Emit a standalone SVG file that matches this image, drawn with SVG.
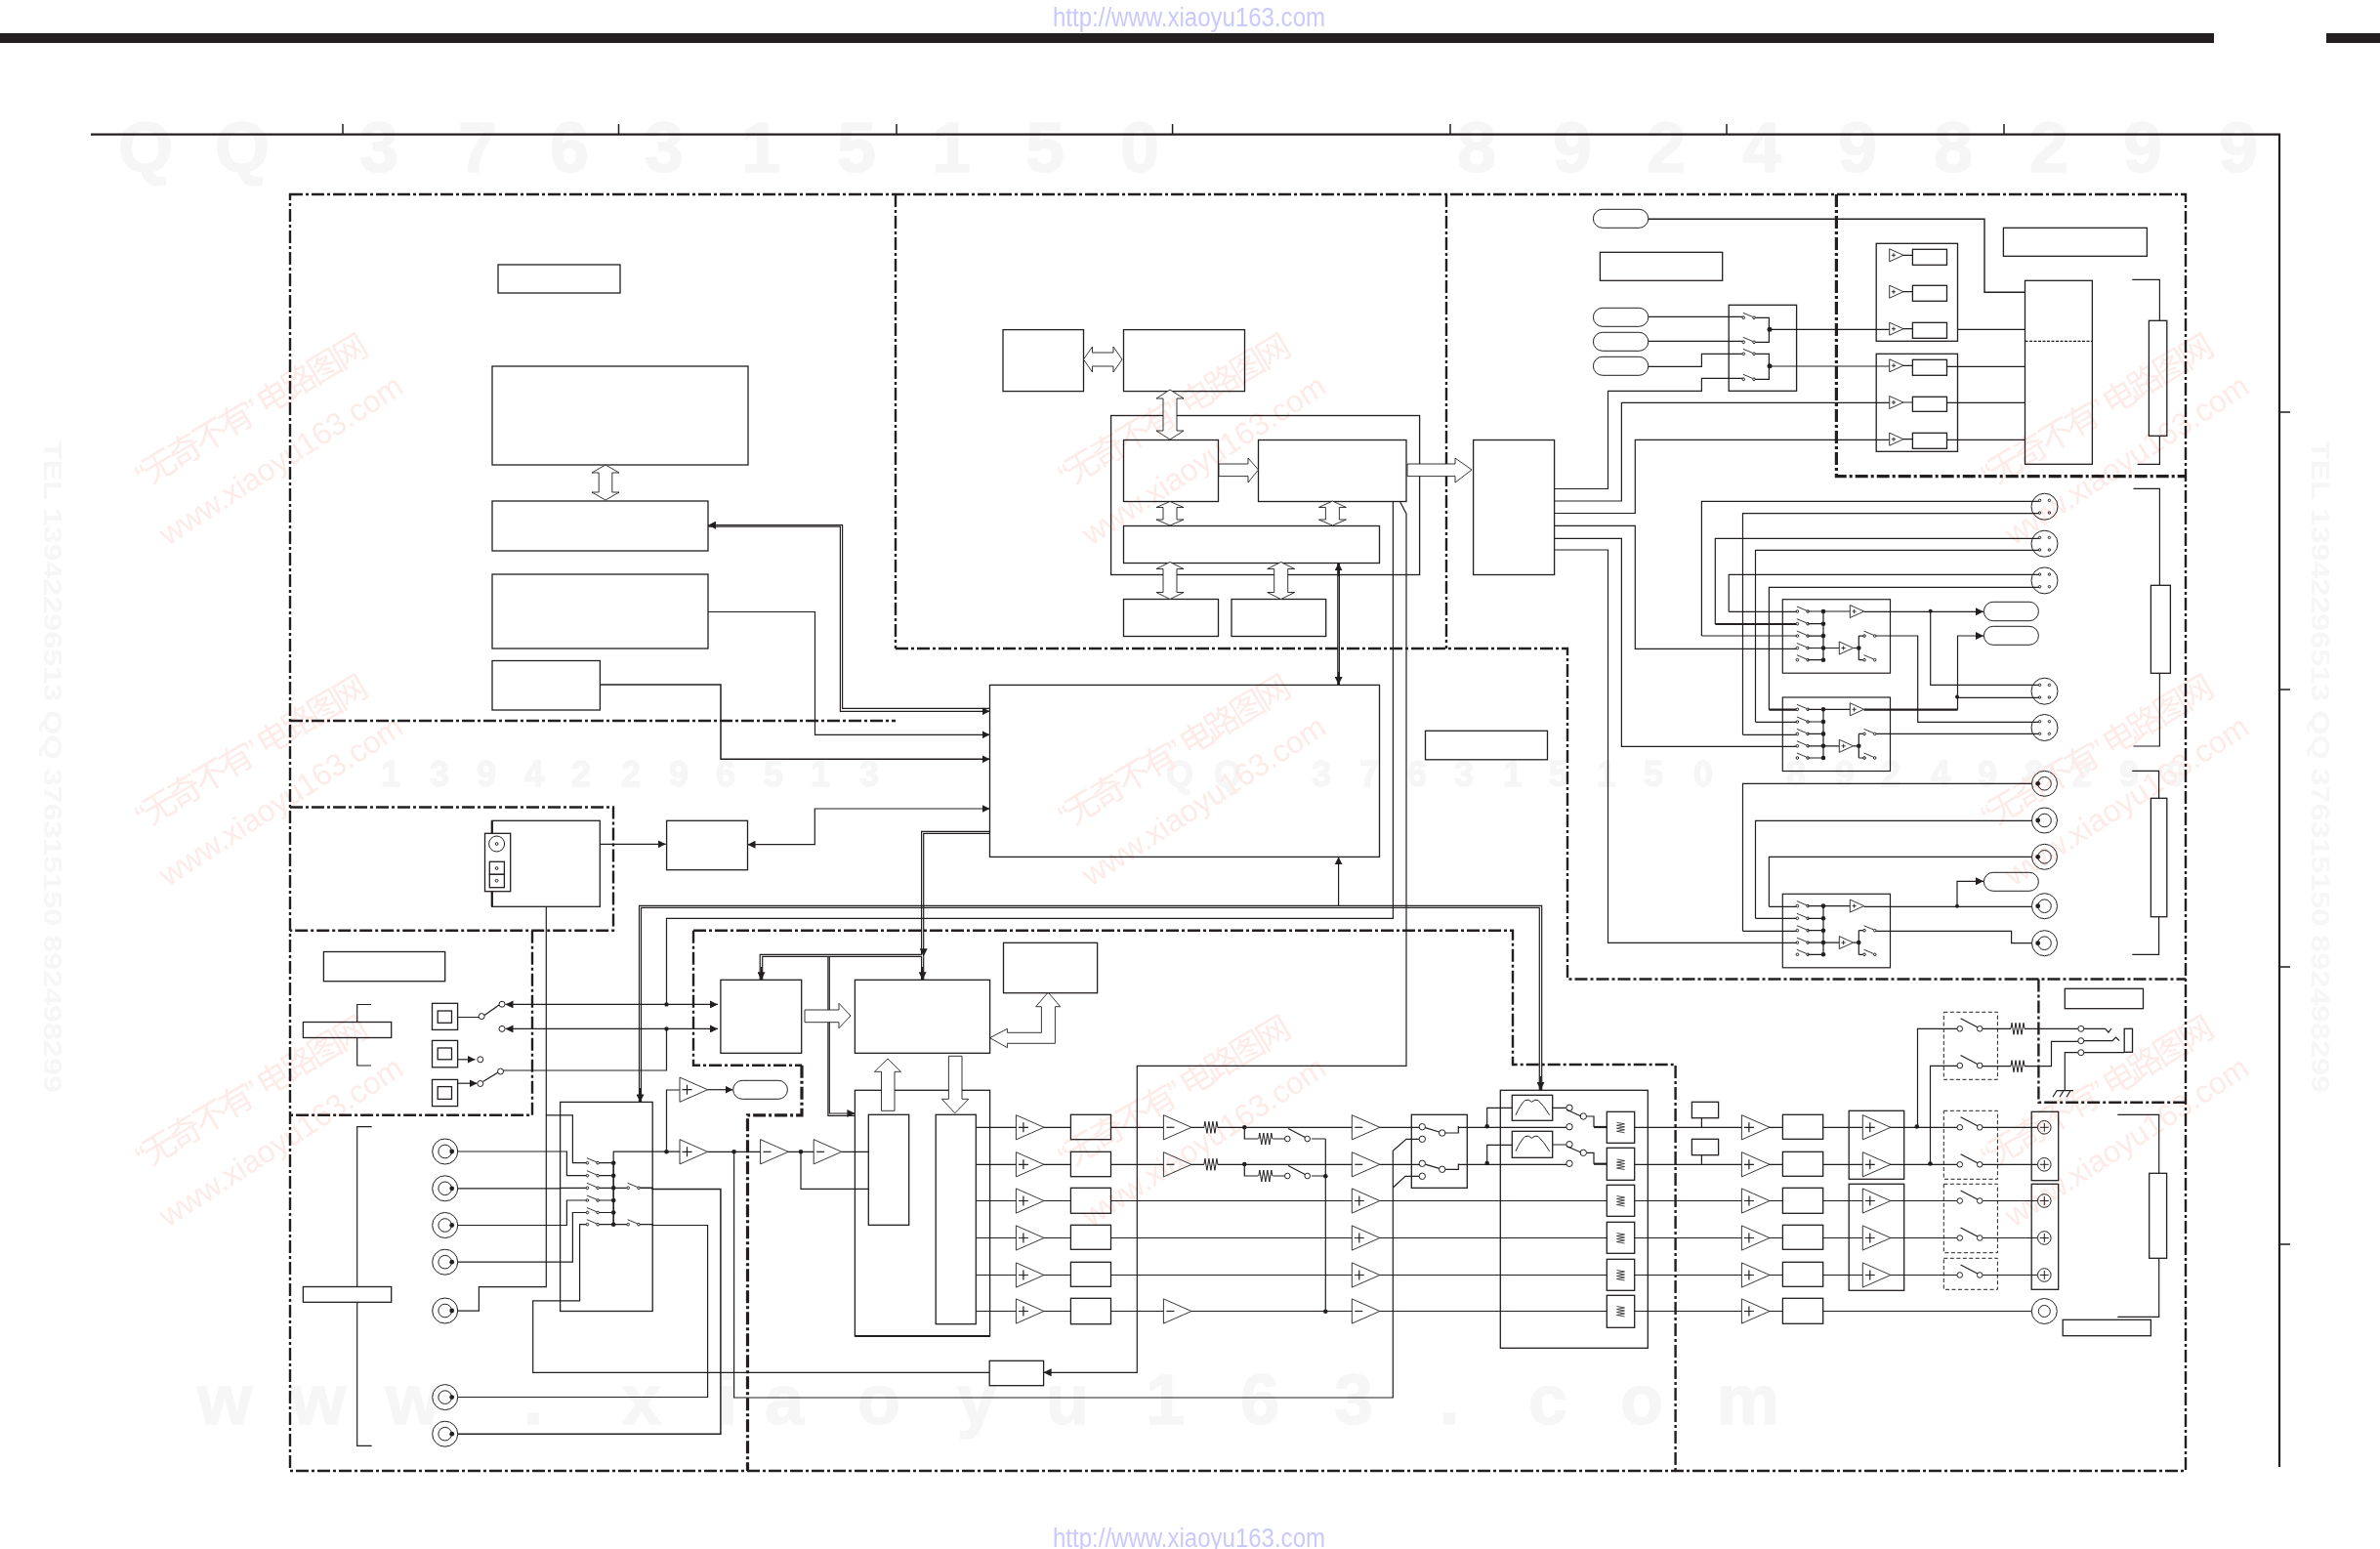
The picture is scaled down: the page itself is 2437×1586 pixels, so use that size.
<svg xmlns="http://www.w3.org/2000/svg" width="2437" height="1586" viewBox="0 0 2437 1586">
<style>
.l{fill:none;stroke:#231f20;stroke-width:1.2}
.t{fill:none;stroke:#231f20;stroke-width:2.2}
.d{fill:none;stroke:#231f20;stroke-width:2.4;stroke-dasharray:13 3 3 3}
.dt{fill:none;stroke:#231f20;stroke-width:3.2;stroke-dasharray:13 3 3 3}
.g{fill:none;stroke:#231f20;stroke-width:1;stroke-dasharray:4 2.5}
.b{fill:#fff;stroke:#231f20;stroke-width:1.3}
.p{fill:#fff;stroke:#231f20;stroke-width:1}
.o{fill:none;stroke:#231f20;stroke-width:1.3}
.h{fill:#fff;stroke:#231f20;stroke-width:.9}
.k{fill:#231f20;stroke:none}
.c{fill:#fff;stroke:#231f20;stroke-width:1}
.a{marker-end:url(#ah)}
.aa{marker-start:url(#ah);marker-end:url(#ah)}
.wd{font-family:"Liberation Sans",sans-serif;font-weight:700;fill:#f6f6f6;stroke:#f6f6f6;stroke-width:1.4;text-anchor:middle}
.wr{font-family:"Liberation Sans","Noto Sans CJK SC",sans-serif;fill:#fdebe8}
.wu{font-family:"Liberation Sans",sans-serif;fill:#c9c9ff;font-size:27px}
.wt{font-family:"Liberation Sans",sans-serif;font-weight:700;fill:#f6f6f6;font-size:26px}
#watermarks{mix-blend-mode:multiply}
</style>
<defs>
<marker id="ah" viewBox="0 0 8 8" refX="8" refY="4" markerWidth="8" markerHeight="8" markerUnits="userSpaceOnUse" orient="auto-start-reverse"><path d="M0 0L8 4L0 8Z" fill="#231f20"/></marker>
<g id="ap"><path class="h" d="M0 -12.6L28.6 0L0 12.6Z"/><path class="l" d="M2.5 0H12.5M7.5 -5V5"/></g>
<g id="am"><path class="h" d="M0 -12.6L28.6 0L0 12.6Z"/><path class="l" d="M3 0H11"/></g>
<g id="as"><path class="h" d="M0 -6.5L14.3 0L0 6.5Z"/><path class="l" style="stroke-width:.9" d="M2.2 0H6.4M4.3 -2.1V2.1"/></g>
<path id="res" class="l" style="stroke-width:1" d="M0 0L1 -6L3 6L5 -6L7 6L9 -6L11 6L13 -6L14 0"/>
<path id="att" class="l" style="stroke-width:.8" d="M-4 -5L4 -3.5L-4 -2L4 -.5L-4 1L4 2.5L-4 4L4 5.5"/>
<path id="flt" class="l" style="stroke-width:1" d="M3.7 20.3Q9 9 13.3 5.3Q17 3.5 20 7Q24 3.5 26.7 5.3Q32 10 38.3 20.3"/>
<g id="sw"><circle class="c" cx="0" cy="0" r="1.3"/><circle class="c" cx="10.7" cy="0" r="1.3"/><path class="l" style="stroke-width:.9" d="M-.5 -5L9.5 -.8"/></g>
<g id="swb"><circle class="c" cx="0" cy="0" r="2.8"/><circle class="c" cx="20.4" cy="0" r="2.8"/><path class="l" d="M.8 -10.5L18 -1.5"/></g>
<g id="din"><circle class="o" style="stroke-width:1" r="13.5"/><circle class="c" cx="-4.9" cy="-6.3" r="1.2"/><circle class="c" cx="4.9" cy="-6.3" r="1.2"/><circle class="c" cx="-4.9" cy="6.3" r="1.2"/><circle class="c" cx="4.9" cy="6.3" r="1.2"/></g>
<g id="cxr"><circle class="c" r="13"/><circle class="c" r="6.8"/><circle class="k" cx="-6.8" r="2.4"/></g>
<g id="cxl"><circle class="c" r="13"/><circle class="c" r="6.8"/><circle class="k" cx="7" r="2.4"/></g>
<g id="trm"><circle class="c" r="6.8"/><path class="l" style="stroke-width:1" d="M-4.5 0H4.5M0 -4.5V4.5"/></g>
<g id="blk">
<rect class="o" style="stroke-width:1.2" width="110.2" height="75.5"/>
<use href="#sw" x="15.1" y="12.3"/><use href="#sw" x="15.1" y="25"/><use href="#sw" x="15.1" y="37.4"/><use href="#sw" x="15.1" y="49.8"/><use href="#sw" x="15.1" y="62"/>
<path class="l" d="M26 12.3H69M26 25H41.7M26 37.4H41.7M26 49.8H58M26 62H41.7M41.7 12.3V62M72.3 49.8H78M78 37.4V62M78 37.4H83.7M78 62H83.7"/>
<circle class="k" cx="41.7" cy="12.3" r="2.3"/><circle class="k" cx="41.7" cy="25" r="2.3"/><circle class="k" cx="41.7" cy="37.4" r="2.3"/><circle class="k" cx="41.7" cy="49.8" r="2.3"/><circle class="k" cx="41.7" cy="62" r="2.3"/><circle class="k" cx="78" cy="49.8" r="2.3"/>
<use href="#as" x="69" y="12.3"/><use href="#as" x="58" y="49.8"/>
<use href="#sw" x="83.7" y="37.4"/><use href="#sw" x="83.7" y="62"/>
</g>
</defs>
<rect width="2437" height="1586" fill="#fff"/>
<g id="frame">
<rect class="k" x="0" y="34" width="2267" height="10"/><rect class="k" x="2382" y="34" width="55" height="10"/>
<path class="t" d="M93 137.7H2334V1502"/>
<path class="l" style="stroke-width:1.5" d="M351 127V137M633.5 127V137M918 127V137M1200.6 127V137M1485 127V137M1768 127V137M2052 127V137M2334 422H2345M2334 706H2345M2334 990H2345M2334 1274H2345"/>
</g>
<g id="regions">
<path class="d" d="M297 199H2238V1506H297Z"/>
<path class="d" d="M917 199V664M297 738H917M917 664H1605V1002.5H2238M1481 199V664M297 826.5H628V952.7H297M545 952.7V1141.8H297M710 952.7H1549V1090H1715.6V1506M710 952.7V1090.7H821M2087.4 1002.5V1128.7H2238"/>
<path class="dt" d="M1880.4 199V487.7H2238M821 1090.7V1141.8H765.5V1506"/>
</g>
<g id="connectors">
<path class="l" style="marker-start:url(#ah)" d="M725 537.7H862.6V725.3H1013.5"/>
<path class="l a" d="M725 539.2H860.4V728.3H1013.5"/>
<path class="l a" d="M725 626.5H834.5V752.3H1013.5"/>
<path class="t a" style="stroke-width:1.5" d="M614.4 701H738V777.3H1013.5"/>
<path class="l a" d="M614.3 864.3H681.7"/>
<path class="l aa" d="M765.5 864.7H834.3V828H1013.5"/>
<path class="l" d="M1013.5 851.3H943.6V977.3H778.2V1003.3"/>
<path class="l a" d="M1013.5 853.3H945.7V979.3"/>
<path class="l" d="M780.7 1003.3V979.3H943.6V1003.3M945.7 979.3V1003.3"/>
<path class="l a" d="M849.3 979.3V1140H875.4"/>
<path class="l" d="M847.9 979.3V1142.3H875.4"/>
<path class="l a" d="M944.6 990V1003.3"/><path class="l a" d="M779.5 990V1003.3"/>
<path class="l" d="M654.5 1128.4V927.3H1578.7V1116"/>
<path class="l" d="M656.5 1128.4V929.3H1576.3V1116"/>
<path class="l a" d="M655.5 1114V1128.4"/><path class="l a" d="M1577.5 1102V1116"/>
<path class="l" style="marker-start:url(#ah)" d="M1370.6 877.3V927.3"/>
<path class="l" d="M1369.8 576.4V701M1371.4 576.4V701"/>
<path class="l a" d="M1370.6 590V576.4"/><path class="l a" d="M1370.6 688V701"/>
<path class="l" d="M1426.4 513.5V940.3H682.5V1028.4"/>
<path class="l a" d="M1433.5 513.5L1440 526V1091.3H1164.3V1405.3H1068.6"/>
<path class="l" d="M1013.2 1405.3H545.7V1331.9H593.6V1253.7H601.4"/>
<path class="l" d="M682.5 1053.4V1096H512.5"/>
<path class="l aa" d="M517.5 1028.4H735"/><path class="l aa" d="M517.5 1053.4H735"/>
<circle class="k" cx="682.5" cy="1028.4" r="2.2"/><circle class="k" cx="682.5" cy="1053.4" r="2.2"/>
<path class="l" d="M462.5 1041.5H490M496 1039.5L511 1029"/>
<path class="l a" d="M468.6 1084.8H486.5"/><path class="l a" d="M468.6 1109.2H488.5"/><path class="l" d="M494.5 1107.5L510 1098"/>
<path class="l" d="M682.5 1179.2V1116H696"/>
<path class="l a" d="M724.6 1115.7H750.5"/>
<path class="l" d="M628.2 1253.7V1179.2H696M724.6 1179.3H778.6M806.4 1179.3H833.2M861.8 1179.3H889.3M820 1179.3V1217.3H889.3"/>
<path class="l" d="M751.6 1179.3V1431H1426.3V1178.3L1440 1166.3H1453.5M1426.3 1216L1439 1204.3H1453.5"/>
<circle class="k" cx="682.5" cy="1179.2" r="2.3"/><circle class="k" cx="751.6" cy="1179.3" r="2.3"/><circle class="k" cx="820" cy="1179.3" r="2.3"/>
<path class="l" d="M462.9 1179H580.4V1203.7H601.4M462.9 1216.8H573.6V1216.3H601.4M462.9 1254.5H580.4V1229H601.4M462.9 1292.2H586.4V1241.5H601.4M462.9 1342.2H490.4V1317.7H559.3V928.3M559.3 1141.8H586.4V1190.7H601.4"/>
<path class="l" style="stroke-width:1.5" d="M653.9 1216.3H668.2V1217.4H737.9V1468.3H462.9"/>
<path class="l" d="M653.9 1253.7H668.2V1254.5H724.6V1430.5H462.9"/>
<path class="l" d="M612.1 1190.7H628.2M612.1 1203.7H628.2M612.1 1216.3H643.2M612.1 1229H628.2M612.1 1241.5H628.2M612.1 1253.7H643.2M628.2 1190.7V1253.7"/>
<path class="l" d="M999.3 1154.3H1040.4M999.3 1192.3H1040.4M999.3 1229.5H1040.4M999.3 1267.5H1040.4M999.3 1305.5H1040.4M999.3 1342.5H1040.4M1068.6 1154.3H1096.4M1068.6 1192.3H1096.4M1068.6 1229.5H1096.4M1068.6 1267.5H1096.4M1068.6 1305.5H1096.4M1068.6 1342.5H1096.4"/>
<path class="l" d="M1137.5 1154.3H1191.4M1137.5 1192.3H1191.4M1137.5 1342.5H1191.4M1137.5 1229.5H1384.3M1137.5 1267.5H1384.3M1137.5 1305.5H1384.3M1220 1342.5H1384.3M1220 1154.3H1232.9M1220 1192.3H1232.9M1246.8 1154.3H1384.3M1246.8 1192.3H1384.3"/>
<path class="l" d="M1274.3 1154.3V1166H1288.3M1303.3 1166H1315.5M1343 1166H1357.3M1274.3 1192.3V1204H1288.3M1303.3 1204H1315.5M1343 1204H1357.3M1357.3 1166V1342.5"/>
<path class="l" d="M1412.7 1154.3H1453.5M1412.7 1192.3H1453.5M1479.5 1160H1493.3V1153M1479.5 1197.3H1493.3V1191.5M1493.3 1154.3H1604M1493.3 1192.3H1604M1522.7 1154.3V1134.3H1548.3M1522.7 1192V1172.3H1548.3M1589.7 1134.3H1604M1589.7 1172H1604"/>
<path class="l" d="M1624.6 1143H1632V1154"/><path class="t" d="M1632 1154H1645.3"/><path class="l" d="M1624.6 1180.3H1632V1191.7"/><path class="t" d="M1632 1191.7H1645.3"/>
<path class="l" d="M1412.7 1229.5H1645.3M1412.7 1267.5H1645.3M1412.7 1305.5H1645.3M1412.7 1342.5H1645.3"/>
<path class="l" d="M1673.7 1154.3H1783.4M1673.7 1192.3H1783.4M1673.7 1229.5H1783.4M1673.7 1267.5H1783.4M1673.7 1305.5H1783.4M1673.7 1342.5H1783.4M1811 1154.3H1825.4M1811 1192.3H1825.4M1811 1229.5H1825.4M1811 1267.5H1825.4M1811 1305.5H1825.4M1811 1342.5H1825.4M1866.7 1154.3H1907.3M1866.7 1192.3H1907.3M1866.7 1229.5H1907.3M1866.7 1267.5H1907.3M1866.7 1305.5H1907.3M1866.7 1342.5H2080M1742.4 1144.7V1154.3M1742.4 1182.7V1192.3"/>
<path class="l" d="M1934.9 1154.3H2004M1934.9 1192.3H2004M1934.9 1229.5H2004M1934.9 1267.5H2004M1934.9 1305.5H2004M2030 1154.3H2086.5M2030 1192.3H2086.5M2030 1229.5H2086.5M2030 1267.5H2086.5M2030 1305.5H2086.5"/>
<path class="l" d="M1963.5 1154.3V1053.3H2004M1976.5 1192.3V1091.3H2004M2030 1053.3H2059M2073 1053.3H2128M2030 1091.7H2059M2073 1091.7H2100.5V1066.3H2128M2128 1077.7H2114.3V1116.7M2133.8 1077.7H2175.2M2133.8 1053.3H2155.6L2159 1057L2162 1053M2133.8 1065.7H2163L2166.5 1062L2170 1065.5M2105.7 1116.7H2122.9M2102 1123.3L2106 1116.7M2109 1123.3L2113 1116.7M2116 1123.3L2120 1116.7"/>
<circle class="k" cx="1962.8" cy="1153.5" r="2.3"/><circle class="k" cx="1976.5" cy="1191.5" r="2.3"/>
<path class="l" style="stroke-width:1.4" d="M1687.8 224.3H2032V299.3H2073.5"/>
<path class="l" d="M1687.8 324.3H1785.3M1687.8 349.3H1785.3M1687.8 375.3H1742.4V362.3H1785.3M1591.6 500.5H1646.5V400.3H1742.4V387.3H1785.3"/>
<path class="l" d="M1796 325.3H1811.4V350.3H1796M1796 362.3H1811.4V388.3H1796M1812 337.3H1934.7M1812 375H1934.7M2004.5 337.3H2073.5M1993.5 375.3H2073.5M1993.5 412.3H2073.5M1993.5 450.3H2073.5"/>
<path class="l" d="M1948.6 261.3H1958.4M1948.6 298.7H1958.4M1948.6 336.7H1958.4M1948.6 374.3H1958.4M1948.6 412H1958.4M1948.6 449.7H1958.4"/>
<path class="l" d="M1591.6 513H1660.4V412.3H1934.7M1591.6 525.5H1674.3V450.3H1934.7M1591.6 538.3H1674.3V664.3H1840.4M1591.6 551.4H1660.4V764.3H1840.4M1591.6 563H1646.5V965.3H1840.4"/>
<path class="l" d="M1742.4 651V513.3H2088.6M1756.3 639V551.3H2088.6M1770.2 626.3V588.3H2088.6M1784.5 752.3V525.7H2088.6M1797.5 739.3V563.3H2088.6M1811.4 726.7V601.3H2088.6"/>
<path class="l" d="M1770.2 626.3H1840.4M1742.4 651H1840.4M1797.5 739.3H1840.4M1784.5 752.3H1840.4"/>
<path class="t" d="M1756.3 639H1840.4M1811.4 726.7H1840.4M1908.6 726.7H2004.5"/>
<path class="l a" d="M1908.6 626.3H2031"/>
<path class="l" d="M1976.7 626V701.3H2088.6M2004.3 714.3H2088.6M1920 651H1963.7V739.3H2088.6M1920 751.4H2088.6"/>
<path class="l a" d="M2004.5 726.7V651H2031"/>
<circle class="k" cx="1976.7" cy="625.7" r="2"/><circle class="k" cx="2004" cy="713.5" r="2"/>
<path class="l" d="M1811.4 928.3V877.3H2086.5M1797.5 940.3V840.3H2086.5M1784.5 953.3V802.3H2086.5M1811.4 928.3H1840.4M1797.5 940.3H1840.4M1784.5 953.3H1840.4M1908.6 928.3H2086.5M1920 953.3H2059.6V965.7H2086.5"/>
<path class="l a" d="M2004 928V902.3H2031"/>
<circle class="k" cx="2004" cy="927.8" r="2"/>
<path class="l" d="M380.7 1153.7H365.7V1480.3H380.7M380 1028.5H365.7V1091H380M2183.3 286.3H2211.4V475.3H2188.6M2184.5 500.3H2211.4V764H2184.5M2183.3 789.3H2210.6V977.3H2183.3M2168.3 1141.3H2210.7V1348.3H2168.3"/>
</g>
<g id="node-tuner-title"><rect class="b" x="510" y="271" width="125" height="29"/></g>
<g id="node-left-big"><rect class="b" x="504" y="375" width="262" height="101"/></g>
<g id="node-left-mid"><rect class="b" x="504" y="513" width="221" height="51"/></g>
<g id="node-left-low"><rect class="b" x="504" y="588" width="221" height="76"/></g>
<g id="node-left-small"><rect class="b" x="504" y="676.5" width="110.4" height="50.5"/></g>
<g id="node-a"><rect class="b" x="1027" y="337.6" width="82.5" height="63"/></g>
<g id="node-b"><rect class="b" x="1150.5" y="337.6" width="124" height="63"/></g>
<g id="node-group"><rect class="o" x="1137.6" y="425.5" width="316" height="163"/></g>
<g id="node-c"><rect class="b" x="1150.5" y="450.5" width="97" height="63"/></g>
<g id="node-d"><rect class="b" x="1288.5" y="450.5" width="151.5" height="63"/></g>
<g id="node-e"><rect class="b" x="1508.6" y="450.5" width="83" height="138"/></g>
<g id="node-f"><rect class="b" x="1150.5" y="538.5" width="262" height="38"/></g>
<g id="node-g"><rect class="b" x="1150.5" y="613.5" width="97" height="38"/></g>
<g id="node-h"><rect class="b" x="1261" y="613.5" width="96.7" height="38"/></g>
<g id="node-main"><rect class="o" x="1013.5" y="701.4" width="399" height="176"/></g>
<g id="node-main-title"><rect class="b" x="1459.5" y="748.3" width="125" height="29.5"/></g>
<g id="hollow-arrows">
<polygon class="h" points="620,476 634,484 626.8,484 626.8,504 634,504 620,512 606,504 613.2,504 613.2,484 606,484"/>
<polygon class="h" points="1198,399 1212,408 1205,408 1205,441 1212,441 1198,450 1184,441 1191,441 1191,408 1184,408"/>
<polygon class="h" points="1198,513.5 1212,519.5 1205,519.5 1205,532 1212,532 1198,538 1184,532 1191,532 1191,519.5 1184,519.5"/>
<polygon class="h" points="1364.4,513 1378.4,519.5 1371.4,519.5 1371.4,532 1378.4,532 1364.4,538 1350.4,532 1357.4,532 1357.4,519.5 1350.4,519.5"/>
<polygon class="h" points="1198,575.5 1212,582.5 1205,582.5 1205,606.5 1212,606.5 1198,613.5 1184,606.5 1191,606.5 1191,582.5 1184,582.5"/>
<polygon class="h" points="1311.7,575.5 1325.7,582.5 1318.7,582.5 1318.7,606.5 1325.7,606.5 1311.7,613.5 1297.7,606.5 1304.7,606.5 1304.7,582.5 1297.7,582.5"/>
<polygon class="h" points="1109.5,368 1118.5,355 1118.5,361 1140,361 1140,355 1149,368 1140,381 1140,375 1118.5,375 1118.5,381"/>
<polygon class="h" points="1248,475 1278,475 1278,469 1288.5,481 1278,494 1278,487.6 1248,487.6"/>
<polygon class="h" points="1441,475 1490,475 1490,469 1507,481 1490,494 1490,487.6 1441,487.6"/>
<polygon class="h" points="824,1034 859,1034 859,1027.3 871,1040 859,1052.7 859,1046.7 824,1046.7"/>
<polygon class="h" points="1013.6,1062.7 1031.4,1053.3 1031.4,1057.3 1066.4,1057.3 1066.4,1030.7 1060.7,1030.7 1073.2,1016 1085.7,1030.7 1080.4,1030.7 1080.4,1068.3 1031.4,1068.3 1031.4,1072.7"/>
</g>
<g id="node-pills">
<rect class="p" x="1631.4" y="214.3" width="56.4" height="19" rx="9.5"/><rect class="p" x="1631.4" y="315.3" width="56.4" height="19" rx="9.5"/><rect class="p" x="1631.4" y="340.3" width="56.4" height="19" rx="9.5"/><rect class="p" x="1631.4" y="365.3" width="56.4" height="19" rx="9.5"/>
<rect class="p" x="2031.4" y="616.3" width="56" height="19.4" rx="9.5"/><rect class="p" x="2031.4" y="641.3" width="56" height="19" rx="9.5"/><rect class="p" x="2031.4" y="893.3" width="56" height="19" rx="9.5"/><rect class="p" x="750.7" y="1106.3" width="55.7" height="19" rx="9.5"/>
</g>
<g id="node-top-right-title"><rect class="b" x="1638.4" y="258.3" width="125.3" height="29"/><rect class="b" x="2051.4" y="233.3" width="147" height="29"/></g>
<g id="node-selector">
<rect class="o" x="1770.2" y="312.3" width="69.4" height="88"/>
<use href="#sw" x="1785.3" y="325.3"/><use href="#sw" x="1785.3" y="350.3"/><use href="#sw" x="1785.3" y="362.3"/><use href="#sw" x="1785.3" y="388.3"/>
<circle class="k" cx="1812" cy="337.3" r="2.5"/><circle class="k" cx="1812" cy="374.7" r="2.5"/>
</g>
<g id="node-amp-box-1">
<rect class="o" x="1921.2" y="249.3" width="83.3" height="100"/>
<use href="#as" x="1934.7" y="261.3"/><use href="#as" x="1934.7" y="298.7"/><use href="#as" x="1934.7" y="336.7"/>
<rect class="b" x="1958.4" y="255.3" width="35.1" height="16"/><rect class="b" x="1958.4" y="292.3" width="35.1" height="16"/><rect class="b" x="1958.4" y="330.3" width="35.1" height="16"/>
</g>
<g id="node-amp-box-2">
<rect class="o" x="1921.2" y="362.3" width="83.3" height="100"/>
<use href="#as" x="1934.7" y="374.3"/><use href="#as" x="1934.7" y="412"/><use href="#as" x="1934.7" y="449.7"/>
<rect class="b" x="1958.4" y="368.3" width="35.1" height="16"/><rect class="b" x="1958.4" y="406.3" width="35.1" height="15"/><rect class="b" x="1958.4" y="443.3" width="35.1" height="16"/>
</g>
<g id="node-hdmi">
<rect class="b" x="2073.5" y="287.3" width="68.9" height="188"/>
<path class="l" style="stroke-dasharray:3 1.5" d="M2073.5 349.3H2142.4"/>
</g>
<g id="node-labels-right">
<rect class="b" x="2200.4" y="328.3" width="18.4" height="118"/><rect class="b" x="2202.4" y="599.3" width="20" height="90"/><rect class="b" x="2202.4" y="817.3" width="16.4" height="121.4"/><rect class="b" x="2200.7" y="1201.3" width="17.9" height="87"/><rect class="b" x="2112.2" y="1351.3" width="90.2" height="16.4"/><rect class="b" x="2114.3" y="1012.3" width="80.2" height="20.4"/>
</g>
<g id="node-switch-blocks">
<use href="#blk" x="1825.3" y="613.7"/><use href="#blk" x="1825.3" y="714"/><use href="#blk" x="1825.3" y="915.3"/>
</g>
<g id="node-din-connectors">
<use href="#din" x="2093.5" y="518.7"/><use href="#din" x="2093.5" y="556.7"/><use href="#din" x="2093.5" y="594.4"/><use href="#din" x="2093.5" y="707.7"/><use href="#din" x="2093.5" y="745"/>
</g>
<g id="node-coax-right">
<use href="#cxr" x="2093.5" y="802.3"/><use href="#cxr" x="2093.5" y="840"/><use href="#cxr" x="2093.5" y="877.3"/><use href="#cxr" x="2093.5" y="927.7"/><use href="#cxr" x="2093.5" y="965.7"/>
</g>
<g id="node-am">
<rect class="o" x="503.8" y="840.3" width="110.5" height="88"/>
<path class="t" d="M503.8 840.3V853.3M503.8 912.7V928.3"/>
<rect class="b" x="496.5" y="853.3" width="26.2" height="59.4"/>
<circle class="c" cx="508.6" cy="864" r="8"/><circle class="c" cx="508.6" cy="864" r="1.4"/>
<rect class="b" x="501.3" y="882.3" width="15.1" height="13"/><rect class="b" x="501.3" y="895.3" width="15.1" height="13.4"/>
<circle class="c" cx="508.6" cy="889" r="1.4"/><circle class="c" cx="508.6" cy="901.7" r="1.4"/>
</g>
<g id="node-o"><rect class="b" x="682.6" y="840.3" width="82.9" height="50.4"/></g>
<g id="node-digital-title"><rect class="b" x="331.4" y="974.5" width="124.3" height="30.2"/></g>
<g id="node-bracket-labels"><rect class="b" x="310.4" y="1046.5" width="90.3" height="16"/><rect class="b" x="310.4" y="1317.5" width="90.3" height="15.8"/></g>
<g id="node-optical">
<rect class="b" x="442.5" y="1027.3" width="26.1" height="27.1"/><rect class="b" x="448.2" y="1035" width="14.3" height="12.3"/>
<rect class="b" x="442.5" y="1065.4" width="26.1" height="27.4"/><rect class="b" x="448.2" y="1073" width="14.3" height="11.8"/>
<rect class="b" x="442.5" y="1105.4" width="26.1" height="27.2"/><rect class="b" x="448.2" y="1112.6" width="14.3" height="12.8"/>
<circle class="c" cx="493.2" cy="1040.6" r="3"/><circle class="c" cx="514" cy="1028.2" r="3"/><circle class="c" cx="514" cy="1053.4" r="3"/><circle class="c" cx="491.8" cy="1084.8" r="3"/><circle class="c" cx="491.8" cy="1109.5" r="3"/><circle class="c" cx="512.5" cy="1097" r="3"/>
</g>
<g id="node-coax-left">
<use href="#cxl" x="455.7" y="1179"/><use href="#cxl" x="455.7" y="1216.8"/><use href="#cxl" x="455.7" y="1254.5"/><use href="#cxl" x="455.7" y="1292.2"/><use href="#cxl" x="455.7" y="1342"/><use href="#cxl" x="455.7" y="1430.6"/><use href="#cxl" x="455.7" y="1468.2"/>
</g>
<g id="node-input-select">
<rect class="o" x="573.6" y="1128.4" width="94.6" height="214.1"/>
<use href="#sw" x="601.4" y="1190.7"/><use href="#sw" x="601.4" y="1203.7"/><use href="#sw" x="601.4" y="1216.3"/><use href="#sw" x="601.4" y="1229"/><use href="#sw" x="601.4" y="1241.5"/><use href="#sw" x="601.4" y="1253.7"/>
<use href="#sw" x="643.2" y="1216.3"/><use href="#sw" x="643.2" y="1253.7"/>
<circle class="k" cx="628.2" cy="1190.7" r="2.3"/><circle class="k" cx="628.2" cy="1203.7" r="2.3"/><circle class="k" cx="628.2" cy="1216.3" r="2.3"/><circle class="k" cx="628.2" cy="1229" r="2.3"/><circle class="k" cx="628.2" cy="1241.5" r="2.3"/><circle class="k" cx="628.2" cy="1253.7" r="2.3"/>
</g>
<g id="node-left-amps">
<use href="#ap" x="696" y="1115.7"/><use href="#ap" x="696" y="1179.3"/><use href="#am" x="778.6" y="1179.3"/><use href="#am" x="833.2" y="1179.3"/>
</g>
<g id="node-i"><rect class="b" x="737.9" y="1003.3" width="82.8" height="75"/></g>
<g id="node-j"><rect class="b" x="875.4" y="1003.3" width="138.2" height="75"/></g>
<g id="node-k"><rect class="b" x="1027.5" y="965.3" width="96.1" height="51.4"/></g>
<g id="node-dsp">
<rect class="o" style="stroke-width:1.3" x="875.4" y="1116.3" width="138.2" height="251.7"/>
<path class="t" d="M875.4 1368H1013.6"/>
<rect class="b" x="889.3" y="1141.3" width="41.4" height="113"/>
<rect class="b" x="958.2" y="1141.3" width="41.1" height="214.4"/>
</g>
<g id="hollow-arrows-dsp">
<polygon class="h" points="909,1084 922.5,1097.3 916,1097.3 916,1137.3 902.5,1137.3 902.5,1097.3 895.4,1097.3"/>
<polygon class="h" points="971.4,1081.3 985,1081.3 985,1125.3 991.8,1125.3 977.9,1139.7 964.3,1125.3 971.4,1125.3"/>
</g>
<g id="node-m"><rect class="b" x="1013.2" y="1393.3" width="55.4" height="25.4"/></g>
<g id="node-row-a">
<use href="#ap" x="1040.4" y="1154.3"/><use href="#ap" x="1040.4" y="1192.3"/><use href="#ap" x="1040.4" y="1229.5"/><use href="#ap" x="1040.4" y="1267.5"/><use href="#ap" x="1040.4" y="1305.5"/><use href="#ap" x="1040.4" y="1342.5"/>
<rect class="b" x="1096.4" y="1141.3" width="41.1" height="25.4"/><rect class="b" x="1096.4" y="1179.3" width="41.1" height="25.4"/><rect class="b" x="1096.4" y="1216.3" width="41.1" height="26"/><rect class="b" x="1096.4" y="1254.3" width="41.1" height="25"/><rect class="b" x="1096.4" y="1292.3" width="41.1" height="25"/><rect class="b" x="1096.4" y="1329.3" width="41.1" height="26.4"/>
<use href="#am" x="1191.4" y="1154.3"/><use href="#am" x="1191.4" y="1192.3"/><use href="#am" x="1191.4" y="1342.5"/>
<use href="#res" x="1232.9" y="1154.3"/><use href="#res" x="1232.9" y="1192.3"/>
<circle class="k" cx="1274.3" cy="1154.3" r="2.3"/><circle class="k" cx="1274.3" cy="1192" r="2.3"/>
<use href="#res" x="1288.8" y="1166"/><use href="#res" x="1288.8" y="1204"/>
<use href="#swb" x="1318.3" y="1166"/><use href="#swb" x="1318.3" y="1204"/>
<circle class="k" cx="1357.3" cy="1204.3" r="2.3"/><circle class="k" cx="1357.3" cy="1342.7" r="2.3"/>
<use href="#am" x="1384.3" y="1154.3"/><use href="#am" x="1384.3" y="1192.3"/><use href="#ap" x="1384.3" y="1229.5"/><use href="#ap" x="1384.3" y="1267.5"/><use href="#ap" x="1384.3" y="1305.5"/><use href="#am" x="1384.3" y="1342.5"/>
</g>
<g id="node-mix-switch">
<rect class="o" x="1445.3" y="1141.3" width="57" height="75"/>
<circle class="c" cx="1456.3" cy="1153.7" r="3.2"/><circle class="c" cx="1476.7" cy="1160" r="3.2"/><circle class="c" cx="1456.3" cy="1166.3" r="3.2"/><path class="l" d="M1459.4 1154.6L1473.6 1159"/>
<circle class="c" cx="1456.3" cy="1191.3" r="3.2"/><circle class="c" cx="1476.7" cy="1197.3" r="3.2"/><circle class="c" cx="1456.3" cy="1204.3" r="3.2"/><path class="l" d="M1459.4 1192.2L1473.6 1196.4"/>
<circle class="k" cx="1522.7" cy="1153.3" r="2.3"/><circle class="k" cx="1522.7" cy="1191" r="2.3"/>
</g>
<g id="node-output-filter">
<rect class="o" x="1536.3" y="1116.3" width="151" height="264"/>
<rect class="b" x="1548.3" y="1121.3" width="41.4" height="26"/><use href="#flt" x="1548.3" y="1121.3"/>
<rect class="b" x="1548.3" y="1158.3" width="41.4" height="27"/><use href="#flt" x="1548.3" y="1158.3"/>
<circle class="c" cx="1607" cy="1134.3" r="3.2"/><circle class="c" cx="1621.3" cy="1143" r="3.2"/><circle class="c" cx="1607" cy="1153.7" r="3.2"/><path class="l" d="M1604 1136L1619 1143"/>
<circle class="c" cx="1607" cy="1171.7" r="3.2"/><circle class="c" cx="1621.3" cy="1180.3" r="3.2"/><circle class="c" cx="1607" cy="1191.3" r="3.2"/><path class="l" d="M1604 1173.5L1619 1180"/>
<rect class="b" x="1645.3" y="1138.3" width="28.4" height="32"/><use href="#att" x="1659.5" y="1154.3"/>
<rect class="b" x="1645.3" y="1175.3" width="28.4" height="33"/><use href="#att" x="1659.5" y="1192"/>
<rect class="b" x="1645.3" y="1213.3" width="28.4" height="32"/><use href="#att" x="1659.5" y="1229.5"/>
<rect class="b" x="1645.3" y="1251.3" width="28.4" height="32"/><use href="#att" x="1659.5" y="1267.5"/>
<rect class="b" x="1645.3" y="1289.3" width="28.4" height="32"/><use href="#att" x="1659.5" y="1305.5"/>
<rect class="b" x="1645.3" y="1326.3" width="28.4" height="33"/><use href="#att" x="1659.5" y="1342.5"/>
</g>
<g id="node-row-b">
<rect class="b" x="1732.4" y="1128.3" width="27.2" height="16.4"/><rect class="b" x="1732.4" y="1166.3" width="27.2" height="16.4"/>
<use href="#ap" x="1783.4" y="1154.3"/><use href="#ap" x="1783.4" y="1192.3"/><use href="#ap" x="1783.4" y="1229.5"/><use href="#ap" x="1783.4" y="1267.5"/><use href="#ap" x="1783.4" y="1305.5"/><use href="#ap" x="1783.4" y="1342.5"/>
<rect class="b" x="1825.4" y="1141.3" width="41.3" height="25"/><rect class="b" x="1825.4" y="1179.3" width="41.3" height="25"/><rect class="b" x="1825.4" y="1216.3" width="41.3" height="26"/><rect class="b" x="1825.4" y="1254.3" width="41.3" height="25"/><rect class="b" x="1825.4" y="1292.3" width="41.3" height="25"/><rect class="b" x="1825.4" y="1329.3" width="41.3" height="26"/>
</g>
<g id="node-power-amps">
<rect class="o" x="1893.2" y="1137.3" width="56.5" height="70"/><rect class="o" x="1893.2" y="1212.3" width="56.5" height="109"/>
<use href="#ap" x="1907.3" y="1154.3"/><use href="#ap" x="1907.3" y="1192.3"/><use href="#ap" x="1907.3" y="1229.5"/><use href="#ap" x="1907.3" y="1267.5"/><use href="#ap" x="1907.3" y="1305.5"/>
</g>
<g id="node-relays">
<rect class="g" x="1990.3" y="1036.3" width="55.1" height="69"/><rect class="g" x="1990.3" y="1137.3" width="55.1" height="70"/><rect class="g" x="1990.3" y="1212.3" width="55.1" height="70.4"/><rect class="g" x="1990.3" y="1288.3" width="55.1" height="32"/>
<use href="#swb" x="2006.8" y="1053.3"/><use href="#swb" x="2006.8" y="1091"/><use href="#swb" x="2006.8" y="1154.3"/><use href="#swb" x="2006.8" y="1192.3"/><use href="#swb" x="2006.8" y="1229.5"/><use href="#swb" x="2006.8" y="1267.5"/><use href="#swb" x="2006.8" y="1305.5"/>
<use href="#res" x="2059" y="1053.3"/><use href="#res" x="2059" y="1091.7"/>
</g>
<g id="node-headphone">
<circle class="c" cx="2130.8" cy="1053.3" r="3"/><circle class="c" cx="2130.8" cy="1065.7" r="3"/><circle class="c" cx="2130.8" cy="1077.7" r="3"/>
<rect class="b" x="2175.2" y="1053.3" width="8.3" height="24"/>
</g>
<g id="node-speakers">
<rect class="o" x="2080.2" y="1138.3" width="27.5" height="70.4"/><rect class="o" x="2080.2" y="1212.3" width="27.5" height="108"/>
<use href="#trm" x="2093.3" y="1154.3"/><use href="#trm" x="2093.3" y="1192.3"/><use href="#trm" x="2093.3" y="1229.5"/><use href="#trm" x="2093.3" y="1267.5"/><use href="#trm" x="2093.3" y="1305.5"/>
<circle class="c" cx="2093.3" cy="1342.5" r="13"/><circle class="c" cx="2093.3" cy="1342.5" r="6"/>
</g>
<g id="watermarks">
<text class="wu" x="1078" y="27" textLength="279" lengthAdjust="spacingAndGlyphs">http://www.xiaoyu163.com</text>
<text class="wu" x="1078" y="1584" textLength="279" lengthAdjust="spacingAndGlyphs">http://www.xiaoyu163.com</text>
<text class="wd" font-size="72" y="176" x="149 248 388 489 583 680 779 877 974 1070 1167 1512 1610 1706 1804 1902 2000 2098 2194 2292">QQ376315150892498299</text>
<text class="wd" font-size="36" y="805" x="400 450 498 547 595 646 695 743 792 840 890 1208 1257 1353 1402 1451 1499 1549 1596 1645 1693 1744 1839 1889 1936 1987 2035 2083 2132 2180 2228">13942296513QQ376315150892498299</text>
<text class="wd" font-size="72" y="1458" x="230 326 423 546 657 745 803 900 1000 1093 1193 1290 1386 1484 1585 1681 1790">www.xiaoyu163.com</text>
<text class="wt" transform="translate(2367,451) rotate(90)" textLength="668" lengthAdjust="spacingAndGlyphs">TEL 13942296513  QQ 376315150  892498299</text>
<text class="wt" transform="translate(45,451) rotate(90)" textLength="668" lengthAdjust="spacingAndGlyphs">TEL 13942296513  QQ 376315150  892498299</text>
<g class="wr">
<text font-size="34" textLength="270" transform="translate(148,500) rotate(-31)">“无奇不有” 电路图网</text><text font-size="32" textLength="290" transform="translate(172,559) rotate(-33)">www.xiaoyu163.com</text>
<text font-size="34" textLength="270" transform="translate(1093,500) rotate(-31)">“无奇不有” 电路图网</text><text font-size="32" textLength="290" transform="translate(1117,559) rotate(-33)">www.xiaoyu163.com</text>
<text font-size="34" textLength="270" transform="translate(2038,500) rotate(-31)">“无奇不有” 电路图网</text><text font-size="32" textLength="290" transform="translate(2062,559) rotate(-33)">www.xiaoyu163.com</text>
<text font-size="34" textLength="270" transform="translate(148,849) rotate(-31)">“无奇不有” 电路图网</text><text font-size="32" textLength="290" transform="translate(172,908) rotate(-33)">www.xiaoyu163.com</text>
<text font-size="34" textLength="270" transform="translate(1093,849) rotate(-31)">“无奇不有” 电路图网</text><text font-size="32" textLength="290" transform="translate(1117,908) rotate(-33)">www.xiaoyu163.com</text>
<text font-size="34" textLength="270" transform="translate(2038,849) rotate(-31)">“无奇不有” 电路图网</text><text font-size="32" textLength="290" transform="translate(2062,908) rotate(-33)">www.xiaoyu163.com</text>
<text font-size="34" textLength="270" transform="translate(148,1198) rotate(-31)">“无奇不有” 电路图网</text><text font-size="32" textLength="290" transform="translate(172,1257) rotate(-33)">www.xiaoyu163.com</text>
<text font-size="34" textLength="270" transform="translate(1093,1198) rotate(-31)">“无奇不有” 电路图网</text><text font-size="32" textLength="290" transform="translate(1117,1257) rotate(-33)">www.xiaoyu163.com</text>
<text font-size="34" textLength="270" transform="translate(2038,1198) rotate(-31)">“无奇不有” 电路图网</text><text font-size="32" textLength="290" transform="translate(2062,1257) rotate(-33)">www.xiaoyu163.com</text>
</g>
</g>
</svg>
